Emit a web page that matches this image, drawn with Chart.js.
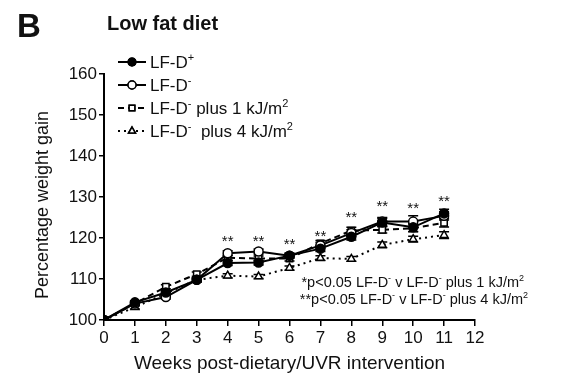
<!DOCTYPE html>
<html>
<head>
<meta charset="utf-8">
<script src="https://cdn.jsdelivr.net/npm/chart.js@4.4.0/dist/chart.umd.min.js"></script>
<style>
  html, body { margin: 0; padding: 0; background: #fff; }
  #wrap { width: 561px; height: 386px; }
</style>
</head>
<body>
<div id="wrap"><canvas id="weightChart"></canvas></div>
<script>
// weeks post-intervention
const weeks = [0, 1, 2, 3, 4, 5, 6, 7, 8, 9, 10, 11];
// percentage weight gain
const lfDplus   = [100, 104.3, 106.7, 109.8, 113.9, 114.0, 115.7, 117.4, 120.3, 123.8, 122.6, 126.0];
const lfDminus  = [100, 104.0, 105.6, 109.8, 116.3, 116.7, 115.7, 118.2, 121.2, 124.0, 124.0, 125.4];
const lfD1kJ    = [100, 104.0, 108.1, 111.2, 115.2, 115.0, 115.0, 118.7, 121.8, 122.0, 122.4, 123.7];
const lfD4kJ    = [100, 103.1, 106.5, 109.8, 110.8, 110.6, 112.7, 115.1, 114.9, 118.3, 119.7, 120.7];
// SEM (small error bars)
const semDplus  = [0, 0.4, 0.5, 0.5, 0.6, 0.6, 0.6, 0.7, 0.8, 1.0, 1.0, 1.0];
const semDminus = [0, 0.4, 0.5, 0.5, 0.6, 0.6, 0.6, 0.7, 0.8, 1.0, 1.4, 1.0];
const semD1kJ   = [0, 0.4, 0.5, 0.5, 0.6, 0.6, 0.6, 0.7, 0.8, 0.8, 0.9, 1.0];
const semD4kJ   = [0, 0.4, 0.4, 0.4, 0.5, 0.5, 0.5, 0.6, 0.6, 0.7, 0.7, 0.8];
// significance markers (week, y value where the text sits)
const starWeeks = [4, 5, 6, 7, 8, 9, 10, 11];
const starY     = [119.6, 119.6, 118.9, 120.8, 125.3, 128.1, 127.7, 129.2];
const xTicks = [0, 1, 2, 3, 4, 5, 6, 7, 8, 9, 10, 11, 12];
const yTicks = [100, 110, 120, 130, 140, 150, 160];

const FONT = '"Liberation Sans", Arial, sans-serif';

const toXY = (vals) => vals.map((v, i) => ({ x: weeks[i], y: v }));

const seriesSem = [semDplus, semDminus, semD1kJ, semD4kJ];

// text with superscript bits: parts = [[text, isSup], ...]
function drawRich(ctx, parts, x, y, size, align) {
    const supSize = Math.round(size * 0.62);
    let total = 0;
    parts.forEach(([t, sup]) => {
        ctx.font = (sup ? supSize : size) + 'px ' + FONT;
        total += ctx.measureText(t).width;
    });
    let cx = align === 'right' ? x - total : x;
    ctx.textBaseline = 'alphabetic';
    ctx.textAlign = 'left';
    parts.forEach(([t, sup]) => {
        ctx.font = (sup ? supSize : size) + 'px ' + FONT;
        ctx.fillText(t, cx, sup ? y - size * 0.42 : y);
        cx += ctx.measureText(t).width;
    });
}

const extrasPlugin = {
    id: 'extras',
    beforeDatasetsDraw(chart) {
        const { ctx, scales: { x, y } } = chart;
        ctx.save();
        ctx.strokeStyle = '#000';
        ctx.lineWidth = 1.5;
        chart.data.datasets.forEach((ds, di) => {
            ds.data.forEach((p, i) => {
                const e = seriesSem[di][i];
                if (!e) return;
                const px = x.getPixelForValue(p.x);
                const top = y.getPixelForValue(p.y + e);
                const bot = y.getPixelForValue(p.y - e);
                ctx.beginPath();
                ctx.moveTo(px, top); ctx.lineTo(px, bot);
                ctx.moveTo(px - 5, top); ctx.lineTo(px + 5, top);
                ctx.moveTo(px - 5, bot); ctx.lineTo(px + 5, bot);
                ctx.stroke();
            });
        });
        ctx.restore();
    },
    afterDraw(chart) {
        const { ctx, scales: { x, y } } = chart;
        ctx.save();
        ctx.fillStyle = '#111';

        // panel letter and heading
        ctx.textBaseline = 'alphabetic';
        ctx.textAlign = 'left';
        ctx.font = 'bold 33px ' + FONT;
        ctx.fillText('B', 17, 37);
        ctx.font = 'bold 20px ' + FONT;
        ctx.fillText('Low fat diet', 107, 30);

        // y axis title
        ctx.save();
        ctx.translate(43, 205);
        ctx.rotate(-Math.PI / 2);
        ctx.textAlign = 'center';
        ctx.textBaseline = 'middle';
        ctx.font = '18px ' + FONT;
        ctx.fillText('Percentage weight gain', 0, 0);
        ctx.restore();

        // asterisks
        ctx.font = '15px ' + FONT;
        ctx.textAlign = 'center';
        ctx.textBaseline = 'middle';
        starWeeks.forEach((w, i) => {
            ctx.fillText('**', x.getPixelForValue(w), y.getPixelForValue(starY[i]) + 2);
        });

        // footnotes
        drawRich(ctx, [['*p<0.05 LF-D', false], ['-', true], [' v LF-D', false], ['-', true], [' plus 1 kJ/m', false], ['2', true]], 524, 287, 14.5, 'right');
        drawRich(ctx, [['**p<0.05 LF-D', false], ['-', true], [' v LF-D', false], ['-', true], [' plus 4 kJ/m', false], ['2', true]], 528, 304, 14.5, 'right');

        // legend
        const rows = [
            { ds: 0, label: [['LF-D', false], ['+', true]] },
            { ds: 1, label: [['LF-D', false], ['-', true]] },
            { ds: 2, label: [['LF-D', false], ['-', true], [' plus 1 kJ/m', false], ['2', true]] },
            { ds: 3, label: [['LF-D', false], ['-', true], ['  plus 4 kJ/m', false], ['2', true]] }
        ];
        rows.forEach((r, i) => {
            const ds = chart.data.datasets[r.ds];
            const cy = 62 + i * 23;
            ctx.save();
            ctx.strokeStyle = '#000';
            ctx.lineWidth = 2;
            ctx.setLineDash(ds.borderDash || []);
            ctx.beginPath();
            ctx.moveTo(118, cy); ctx.lineTo(146, cy);
            ctx.stroke();
            ctx.restore();
            Chart.helpers.drawPoint(ctx, {
                pointStyle: ds.pointStyle, radius: 4, borderWidth: 1.5
            }, 132, cy);
            ctx.fillStyle = ds.pointBackgroundColor;
            ctx.strokeStyle = '#000';
            ctx.lineWidth = 1.5;
            ctx.fill();
            ctx.stroke();
            ctx.fillStyle = '#111';
            drawRich(ctx, r.label, 150, cy + 6, 17, 'left');
        });
        ctx.restore();
    }
};

function createWeightChart(ctx) {
    if (!ctx) return;
    const common = {
        borderColor: '#000',
        borderWidth: 2,
        pointRadius: 4.5,
        pointBorderWidth: 1.5,
        pointBorderColor: '#000',
        tension: 0
    };
    new Chart(ctx, {
        type: 'line',
        data: {
            datasets: [{
                ...common,
                label: 'LF-D+',
                data: toXY(lfDplus),
                pointStyle: 'circle',
                pointBackgroundColor: '#000'
            }, {
                ...common,
                label: 'LF-D-',
                data: toXY(lfDminus),
                pointStyle: 'circle',
                pointBackgroundColor: '#fff'
            }, {
                ...common,
                label: 'LF-D- plus 1 kJ/m2',
                data: toXY(lfD1kJ),
                pointStyle: 'rect',
                pointBackgroundColor: '#fff',
                borderDash: [6, 4]
            }, {
                ...common,
                label: 'LF-D- plus 4 kJ/m2',
                data: toXY(lfD4kJ),
                pointStyle: 'triangle',
                pointBackgroundColor: '#fff',
                borderDash: [2, 4]
            }]
        },
        options: {
            responsive: true, maintainAspectRatio: false,
            animation: false,
            layout: { padding: { top: 74, right: 86, left: 0, bottom: 0 } },
            plugins: { legend: { display: false }, tooltip: { enabled: false } },
            scales: {
                x: {
                    type: 'linear', min: 0, max: 12,
                    afterBuildTicks: (s) => { s.ticks = xTicks.map(v => ({ value: v })); },
                    afterFit: (s) => { s.height = 66; },
                    ticks: { font: { family: FONT, size: 17 }, color: '#111', padding: 2 },
                    grid: { drawOnChartArea: false, color: '#000', lineWidth: 1.5, tickLength: 6 },
                    border: { color: '#000', width: 2 },
                    title: { display: true, text: 'Weeks post-dietary/UVR intervention', font: { family: FONT, size: 19 }, color: '#111', padding: { bottom: 11 } }
                },
                y: {
                    min: 100, max: 160,
                    afterBuildTicks: (s) => { s.ticks = yTicks.map(v => ({ value: v })); },
                    afterFit: (s) => { s.width = 104; },
                    ticks: { font: { family: FONT, size: 17 }, color: '#111', padding: 2 },
                    grid: { drawOnChartArea: false, color: '#000', lineWidth: 1.5, tickLength: 5 },
                    border: { color: '#000', width: 2 },
                    title: { display: false }
                }
            }
        },
        plugins: [extrasPlugin]
    });
}

createWeightChart(document.getElementById('weightChart').getContext('2d'));
</script>
</body>
</html>
